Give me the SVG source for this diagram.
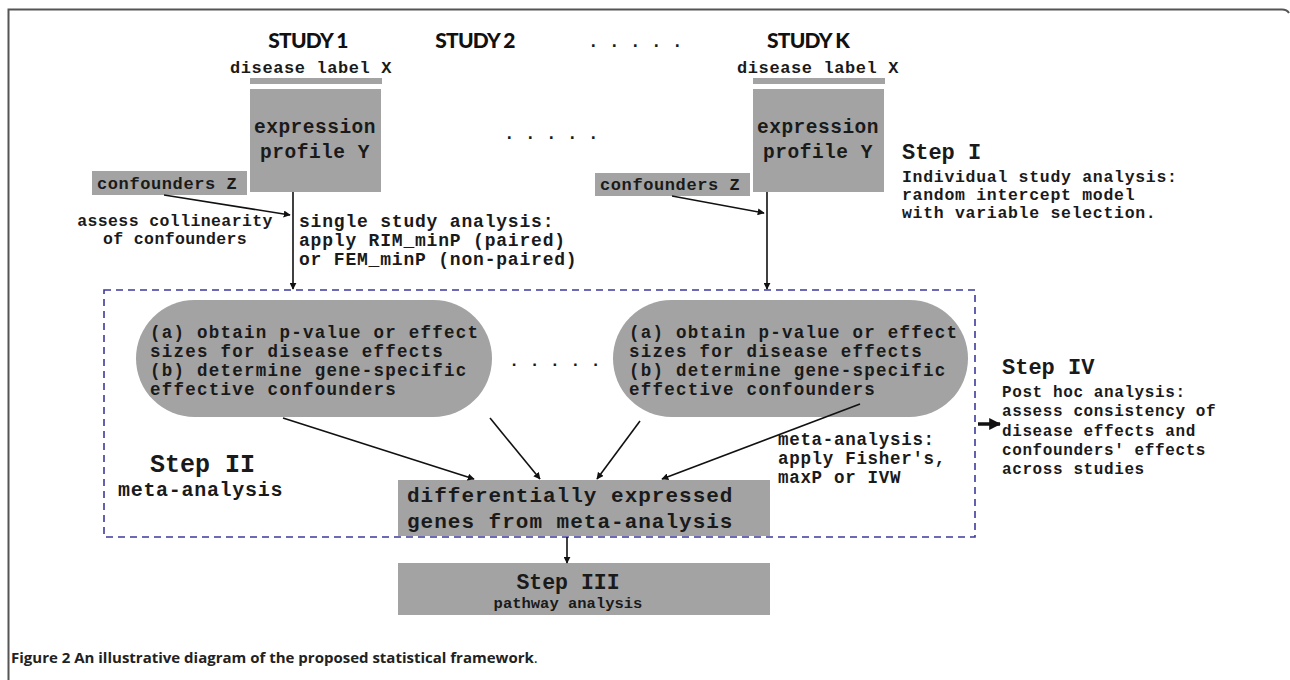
<svg xmlns="http://www.w3.org/2000/svg" width="1290" height="680" viewBox="0 0 1290 680">
<style>
.m{font-family:"Liberation Mono","Courier New",monospace;font-weight:bold;fill:#1a1a1a}
.p{font-size:17.5px;letter-spacing:1.26px}
.t{font-family:Lato,"Open Sans",sans-serif;font-weight:900;fill:#111;font-size:21px;letter-spacing:-0.8px}
.g{fill:#a3a3a3}
.c{stroke:#111;stroke-width:1.6;fill:none;marker-end:url(#ah)}
</style>
<defs>
<marker id="ah" viewBox="0 0 10 10" refX="9" refY="5" markerWidth="7" markerHeight="7" orient="auto" markerUnits="userSpaceOnUse">
<path d="M0,0 L10,5 L0,10 z" fill="#111"/>
</marker>
<marker id="ahb" viewBox="0 0 10 10" refX="9" refY="5" markerWidth="12" markerHeight="12" orient="auto" markerUnits="userSpaceOnUse">
<path d="M0,0 L10,5 L0,10 z" fill="#111"/>
</marker>
</defs>
<rect width="1290" height="680" fill="#fff"/>
<path d="M8.5,680 V9.5 H1282 Q1287,9.5 1289,13" fill="none" stroke="#555" stroke-width="2"/>

<g id="titles">
<text class="t" x="308" y="48" text-anchor="middle">STUDY 1</text>
<text class="t" x="475" y="48" text-anchor="middle">STUDY 2</text>
<text class="m" x="588" y="47" font-size="17.5">. . . . .</text>
<text class="t" x="808" y="48" text-anchor="middle">STUDY K</text>
<text class="m" x="504" y="139" font-size="17.5">. . . . .</text>
<text class="m" x="509" y="366" font-size="17">. . . . .</text>
</g>

<g id="study1">
<text class="m" x="311" y="73" font-size="17" letter-spacing="0.6" text-anchor="middle">disease label X</text>
<rect class="g" x="250" y="78" width="132" height="6"/>
<rect class="g" x="250" y="89" width="131" height="103"/>
<text class="m" x="315" y="133" font-size="19.5" letter-spacing="0.5" text-anchor="middle">expression</text>
<text class="m" x="315" y="158" font-size="19.5" letter-spacing="0.5" text-anchor="middle">profile Y</text>
</g>
<g id="conf1">
<rect class="g" x="92" y="171" width="155" height="24"/>
<text class="m" x="97" y="189" font-size="17" letter-spacing="0.6">confounders Z</text>
</g>

<g id="studyK">
<text class="m" x="818" y="73" font-size="17" letter-spacing="0.6" text-anchor="middle">disease label X</text>
<rect class="g" x="753" y="78" width="132" height="6"/>
<rect class="g" x="753" y="89" width="131" height="103"/>
<text class="m" x="818" y="133" font-size="19.5" letter-spacing="0.5" text-anchor="middle">expression</text>
<text class="m" x="818" y="158" font-size="19.5" letter-spacing="0.5" text-anchor="middle">profile Y</text>
</g>
<g id="confK">
<rect class="g" x="595" y="173" width="155" height="23"/>
<text class="m" x="600" y="190" font-size="17" letter-spacing="0.6">confounders Z</text>
</g>

<g id="step1">
<text class="m" x="902" y="159" font-size="22">Step I</text>
<text class="m" x="902" y="182" font-size="16.5" letter-spacing="0.7">Individual study analysis:</text>
<text class="m" x="902" y="200" font-size="16.5" letter-spacing="0.7">random intercept model</text>
<text class="m" x="902" y="218" font-size="16.5" letter-spacing="0.7">with variable selection.</text>
</g>

<g id="labels">
<text class="m" x="175" y="226" font-size="16.5" letter-spacing="0.4" text-anchor="middle">assess collinearity</text>
<text class="m" x="175" y="244" font-size="16.5" letter-spacing="0.4" text-anchor="middle">of confounders</text>
<text class="m" x="299" y="227" font-size="18" letter-spacing="0.8">single study analysis:</text>
<text class="m" x="299" y="246" font-size="18" letter-spacing="0.8">apply RIM_minP (paired)</text>
<text class="m" x="299" y="265" font-size="18" letter-spacing="0.8">or FEM_minP (non-paired)</text>
<text class="m" x="778" y="445" font-size="17.5" letter-spacing="0.7">meta-analysis:</text>
<text class="m" x="778" y="464" font-size="17.5" letter-spacing="0.7">apply Fisher's,</text>
<text class="m" x="778" y="483" font-size="17.5" letter-spacing="0.7">maxP or IVW</text>
</g>

<g id="step2box">
<rect x="104" y="290" width="871" height="247" fill="none" stroke="#3d3a9c" stroke-width="1.6" stroke-dasharray="7,5"/>
<text class="m" x="150" y="472" font-size="25">Step II</text>
<text class="m" x="118" y="496" font-size="20" letter-spacing="0.7">meta-analysis</text>
</g>

<g id="pill1">
<rect class="g" x="136" y="300" width="356" height="117" rx="58.5"/>
<text class="m p" x="150" y="338">(a) obtain p-value or effect</text>
<text class="m p" x="150" y="357">sizes for disease effects</text>
<text class="m p" x="150" y="376">(b) determine gene-specific</text>
<text class="m p" x="150" y="395">effective confounders</text>
</g>
<g id="pill2">
<rect class="g" x="613" y="300" width="355" height="117" rx="58.5"/>
<text class="m p" x="629" y="338">(a) obtain p-value or effect</text>
<text class="m p" x="629" y="357">sizes for disease effects</text>
<text class="m p" x="629" y="376">(b) determine gene-specific</text>
<text class="m p" x="629" y="395">effective confounders</text>
</g>

<g id="de">
<rect class="g" x="398" y="480" width="372" height="56"/>
<text class="m" x="407" y="502" font-size="21" letter-spacing="1">differentially expressed</text>
<text class="m" x="407" y="528" font-size="21" letter-spacing="1">genes from meta-analysis</text>
</g>

<g id="step3">
<rect class="g" x="398" y="563" width="372" height="52"/>
<text class="m" x="568" y="589" font-size="21.5" text-anchor="middle">Step III</text>
<text class="m" x="568" y="608" font-size="15.5" text-anchor="middle">pathway analysis</text>
</g>

<g id="step4">
<text class="m" x="1002" y="374" font-size="22">Step IV</text>
<text class="m" x="1002" y="397" font-size="16" letter-spacing="0.6">Post hoc analysis:</text>
<text class="m" x="1002" y="416" font-size="16" letter-spacing="0.6">assess consistency of</text>
<text class="m" x="1002" y="436" font-size="16" letter-spacing="0.6">disease effects and</text>
<text class="m" x="1002" y="455" font-size="16" letter-spacing="0.6">confounders' effects</text>
<text class="m" x="1002" y="474" font-size="16" letter-spacing="0.6">across studies</text>
</g>

<g id="connectors">
<line class="c" x1="164" y1="195" x2="290" y2="215"/>
<line class="c" x1="293" y1="192" x2="293" y2="289"/>
<line class="c" x1="672" y1="196" x2="764" y2="213"/>
<line class="c" x1="767" y1="192" x2="767" y2="289"/>
<line class="c" x1="283" y1="418" x2="474" y2="479"/>
<line class="c" x1="490" y1="418" x2="540" y2="479"/>
<line class="c" x1="640" y1="421" x2="597" y2="479"/>
<line class="c" x1="860" y1="404" x2="662" y2="479"/>
<line class="c" x1="567" y1="537" x2="567" y2="563"/>
<line x1="978" y1="424" x2="1000" y2="424" stroke="#111" stroke-width="3.5" marker-end="url(#ahb)"/>
</g>

<g id="caption">
<text x="11" y="663" font-family="'Open Sans','Liberation Sans',sans-serif" font-size="15" fill="#222"><tspan font-weight="bold">Figure 2 An illustrative diagram of the proposed statistical framework</tspan>.</text>
</g>
</svg>
